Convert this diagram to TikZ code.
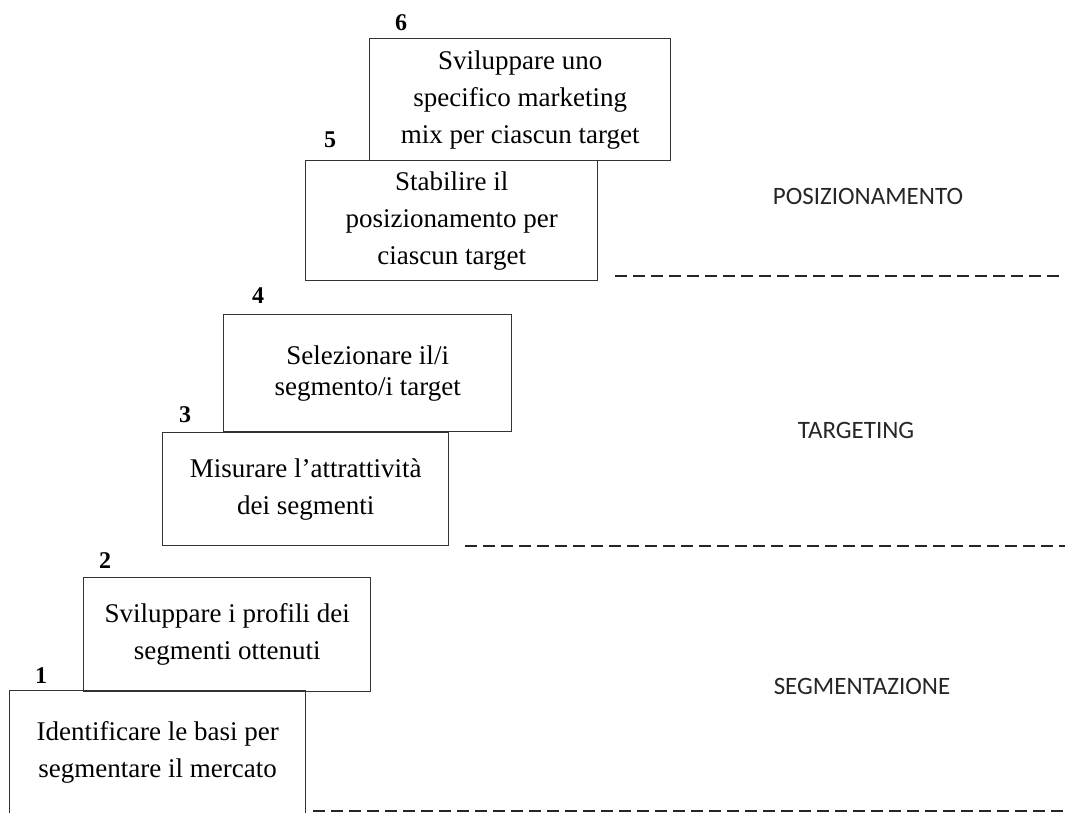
\documentclass[tikz,border=0pt]{standalone}
\usepackage{fontspec}
\setmainfont{Liberation Serif}
\newfontfamily\carlito{Carlito}

\begin{document}
\begin{tikzpicture}[x=1pt, y=-1pt,
  stepbox/.style={draw=black!80, line width=1.3pt, inner sep=0pt, anchor=north west,
    align=center, font=\fontsize{27}{37}\selectfont},
  stepnum/.style={font=\fontsize{24}{24}\selectfont\bfseries, anchor=base},
  phase/.style={font=\carlito\fontsize{25}{25}\selectfont, text=black!85},
  sepline/.style={black!85, line width=1.6pt, dash pattern=on 12pt off 6pt}]
  \useasboundingbox (0,0) rectangle (1065,812);

  % the six steps, bottom up
  \node[stepbox, minimum width=296pt, minimum height=124pt] (b1) at (9,690) {Identificare le basi per\\segmentare il mercato};
  \node[stepbox, minimum width=287pt, minimum height=114pt] (b2) at (83,577) {Sviluppare i profili dei\\segmenti ottenuti};
  \node[stepbox, minimum width=286pt, minimum height=113pt] (b3) at (162,432) {Misurare l'attrattività\\dei segmenti};
  \node[stepbox, minimum width=288pt, minimum height=117pt, font=\fontsize{27}{31}\selectfont] (b4) at (223,314) {Selezionare il/i\\segmento/i target};
  \node[stepbox, minimum width=292pt, minimum height=120pt] (b5) at (305,160) {Stabilire il\\posizionamento per\\ciascun target};
  \node[stepbox, minimum width=301pt, minimum height=122pt] (b6) at (369,38) {Sviluppare uno\\specifico marketing\\mix per ciascun target};

  % numbers
  \node[stepnum] (n1) at ([xshift=32pt, yshift=7pt]b1.north west) {1};
  \node[stepnum] (n2) at ([xshift=22pt, yshift=9pt]b2.north west) {2};
  \node[stepnum] (n3) at ([xshift=23pt, yshift=10pt]b3.north west) {3};
  \node[stepnum] (n4) at ([xshift=35pt, yshift=11pt]b4.north west) {4};
  \node[stepnum] (n5) at ([xshift=25pt, yshift=13pt]b5.north west) {5};
  \node[stepnum] (n6) at ([xshift=32pt, yshift=8pt]b6.north west) {6};

  % phases
  \node[phase] (pos) at (868,196) {POSIZIONAMENTO};
  \node[phase] (tar) at (856,430) {TARGETING};
  \node[phase] (seg) at (862,686) {SEGMENTAZIONE};

  \draw[sepline] (615,276) -- (1065,276);
  \draw[sepline] (465,546) -- (1065,546);
  \draw[sepline] (313,811) -- (1065,811);
\end{tikzpicture}
\end{document}
